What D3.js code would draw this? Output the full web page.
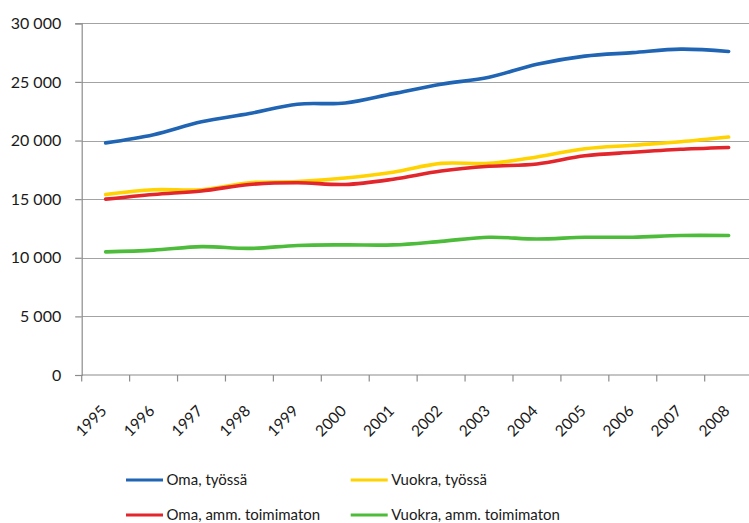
<!DOCTYPE html>
<html>
<head>
<meta charset="utf-8">
<script src="https://cdn.jsdelivr.net/npm/d3@7"></script>
<style>
  html, body { margin: 0; padding: 0; background: #fff; }
  svg { display: block; }
  text { font-family: Lato, "Open Sans", "Liberation Sans", sans-serif; fill: #1a1a1a; }
</style>
</head>
<body>
<script>
const years = ["1995","1996","1997","1998","1999","2000","2001","2002","2003","2004","2005","2006","2007","2008"];
const omaTyossa = [19800, 20500, 21600, 22300, 23100, 23200, 24000, 24800, 25400, 26500, 27200, 27500, 27800, 27600];
const vuokraTyossa = [15400, 15800, 15800, 16400, 16500, 16800, 17300, 18050, 18050, 18600, 19300, 19600, 19900, 20300];
const omaToimimaton = [15000, 15400, 15700, 16250, 16400, 16250, 16700, 17400, 17800, 18000, 18700, 19000, 19250, 19400];
const vuokraToimimaton = [10500, 10650, 10950, 10800, 11050, 11100, 11100, 11400, 11750, 11600, 11750, 11750, 11900, 11900];
const yTicks = [0, 5000, 10000, 15000, 20000, 25000, 30000];
const seriesNames = ["Oma, työssä", "Vuokra, työssä", "Oma, amm. toimimaton", "Vuokra, amm. toimimaton"];
const seriesColors = ["#2064b4", "#ffd200", "#e2262b", "#4cbc3a"];
const seriesValues = [omaTyossa, vuokraTyossa, omaToimimaton, vuokraToimimaton];

const W = 749, H = 523;
const plot = { left: 81.7, right: 752.6, top: 23.3, bottom: 375 };

const svg = d3.select("body").append("svg").attr("width", W).attr("height", H);

const x = d3.scaleBand().domain(years).range([plot.left, plot.right]).paddingInner(0).paddingOuter(0);
const y = d3.scaleLinear().domain([0, 30000]).range([plot.bottom, plot.top]);
const fmt = v => d3.format(",")(v).replace(/,/g, " ");

// gridlines
svg.append("g").selectAll("line").data(yTicks.filter(d => d > 0)).join("line")
  .attr("x1", plot.left).attr("x2", plot.right)
  .attr("y1", d => Math.round(y(d)) + 0.5).attr("y2", d => Math.round(y(d)) + 0.5)
  .attr("stroke", "#a3a3a3").attr("stroke-width", 1.2);

// y axis
const yAxis = d3.axisLeft(y).tickValues(yTicks).tickSize(6.5).tickPadding(14).tickFormat(fmt);
const gy = svg.append("g").attr("transform", `translate(${plot.left},0)`).call(yAxis);
gy.select(".domain").attr("stroke", "#8c8c8c").attr("stroke-width", 1.2);
gy.selectAll(".tick line").attr("stroke", "#8c8c8c").attr("stroke-width", 1.2);
gy.selectAll(".tick text").attr("font-size", 16).attr("fill", "#1a1a1a")
  .style("font-family", "Lato, 'Open Sans', sans-serif");

// x axis (ticks at band boundaries)
const gx = svg.append("g");
gx.append("line").attr("x1", plot.left).attr("x2", plot.right)
  .attr("y1", plot.bottom).attr("y2", plot.bottom).attr("stroke", "#8c8c8c").attr("stroke-width", 1.2);
gx.selectAll("line.tk").data(years).join("line").attr("class", "tk")
  .attr("x1", d => x(d)).attr("x2", d => x(d))
  .attr("y1", plot.bottom).attr("y2", plot.bottom + 6.5)
  .attr("stroke", "#8c8c8c").attr("stroke-width", 1.2);
const lx = d => x(d) + x.bandwidth() / 2 + 2;
const ly = plot.bottom + 37;
gx.selectAll("text").data(years).join("text")
  .attr("x", lx)
  .attr("y", ly)
  .attr("text-anchor", "end")
  .attr("font-size", 15.5)
  .attr("transform", d => `rotate(-45, ${lx(d)}, ${ly})`)
  .text(d => d);

// lines
const line = d3.line()
  .x((d, i) => x(years[i]) + x.bandwidth() / 2)
  .y(d => y(d))
  .curve(d3.curveCatmullRom.alpha(0.5));

svg.append("g").selectAll("path").data(seriesValues).join("path")
  .attr("d", d => line(d))
  .attr("fill", "none")
  .attr("stroke", (d, i) => seriesColors[i])
  .attr("stroke-width", 3.6)
  .attr("stroke-linecap", "round")
  .attr("stroke-linejoin", "round");

// legend
const legendPos = [
  { lx: 126, ly: 480 }, { lx: 350.7, ly: 480 },
  { lx: 126, ly: 515 }, { lx: 350.7, ly: 515 }
];
const lg = svg.append("g").selectAll("g").data(seriesNames).join("g")
  .attr("transform", (d, i) => `translate(${legendPos[i].lx},${legendPos[i].ly})`);
lg.append("line").attr("x1", 0).attr("x2", 37).attr("y1", 0).attr("y2", 0)
  .attr("stroke", (d, i) => seriesColors[i]).attr("stroke-width", 3);
lg.append("text").attr("x", 40.5).attr("y", 0).attr("dy", "0.36em")
  .attr("font-size", 15).text(d => d);
</script>
</body>
</html>
